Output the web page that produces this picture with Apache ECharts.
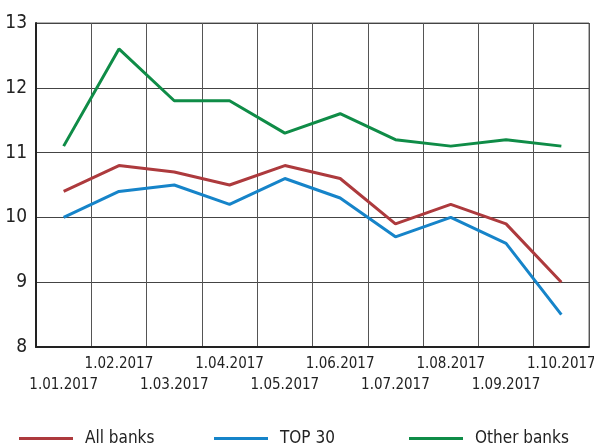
<!DOCTYPE html>
<html>
<head>
    <meta charset="utf-8">
    <title>Banks</title>
    <script src="https://cdn.jsdelivr.net/npm/echarts@6/dist/echarts.min.js"></script>
    <style>
        body { margin: 0; background: #fff; }
    </style>
</head>
<body>
    <div id="chart_" style="width: 594px;height:448px;"></div>
    <script type="text/javascript">
        var dates = ['1.01.2017', '1.02.2017', '1.03.2017', '1.04.2017', '1.05.2017',
                     '1.06.2017', '1.07.2017', '1.08.2017', '1.09.2017', '1.10.2017'];
        var allBanks = [10.4, 10.8, 10.7, 10.5, 10.8, 10.6, 9.9, 10.2, 9.9, 9.0];
        var top30 = [10.0, 10.4, 10.5, 10.2, 10.6, 10.3, 9.7, 10.0, 9.6, 8.5];
        var otherBanks = [11.1, 12.6, 11.8, 11.8, 11.3, 11.6, 11.2, 11.1, 11.2, 11.1];

        var font = '"DejaVu Sans Condensed", "Liberation Sans Narrow", sans-serif';
        var red = '#ad3a3d', blue = '#1684c9', green = '#0f8c47';

        function legendAt(name, left) {
            return {
                data: [name],
                left: left,
                top: 425,
                icon: 'rect',
                itemWidth: 54,
                itemHeight: 3,
                textStyle: { fontFamily: font, fontSize: 17, color: '#222', padding: [0, 0, 0, 7] }
            };
        }

        var myChart = echarts.init(document.getElementById('chart_'));
        var option = {
            animation: false,
            grid: { left: 36, right: 5, top: 23, bottom: 101, outerBoundsMode: 'none',
                    show: true, borderColor: '#666', borderWidth: 1 },
            legend: [legendAt('All banks', 14), legendAt('TOP 30', 209), legendAt('Other banks', 404)],
            xAxis: {
                type: 'category',
                data: dates,
                boundaryGap: true,
                axisLine: { lineStyle: { color: '#222', width: 2 } },
                axisTick: { show: false },
                splitLine: { show: true, lineStyle: { color: '#555', width: 1 } },
                axisLabel: {
                    interval: 0,
                    margin: 7,
                    fontFamily: font,
                    fontSize: 15,
                    lineHeight: 21,
                    color: '#222',
                    formatter: function (v, i) { return i % 2 === 0 ? '\n' + v : v; }
                }
            },
            yAxis: {
                type: 'value',
                min: 8,
                max: 13,
                interval: 1,
                axisLine: { show: true, lineStyle: { color: '#222', width: 2 } },
                axisTick: { show: false },
                splitLine: { lineStyle: { color: '#444', width: 1 } },
                axisLabel: { margin: 9, fontFamily: font, fontSize: 19, color: '#222' }
            },
            series: [
                { name: 'All banks', type: 'line', data: allBanks, symbol: 'none',
                  lineStyle: { color: red, width: 3 }, itemStyle: { color: red } },
                { name: 'TOP 30', type: 'line', data: top30, symbol: 'none',
                  lineStyle: { color: blue, width: 3 }, itemStyle: { color: blue } },
                { name: 'Other banks', type: 'line', data: otherBanks, symbol: 'none',
                  lineStyle: { color: green, width: 3 }, itemStyle: { color: green } }
            ]
        };
        myChart.setOption(option);
    </script>
</body>
</html>
